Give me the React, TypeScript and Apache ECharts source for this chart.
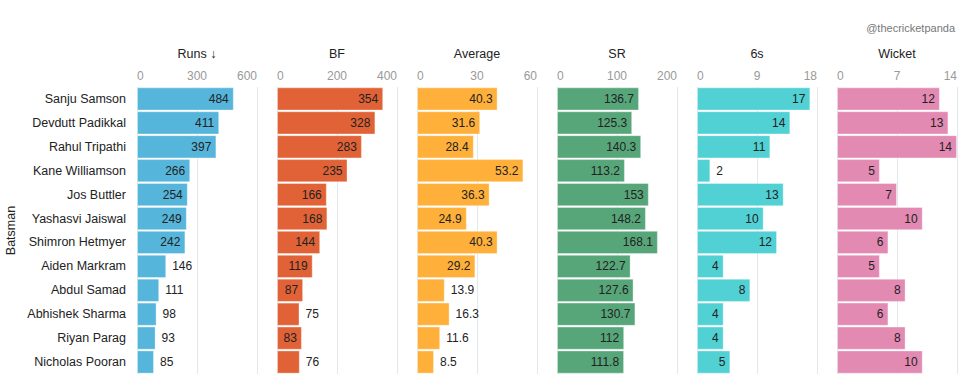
import React, { useEffect, useRef } from "react";
import * as echarts from "echarts";

const batsmen = [
  "Sanju Samson", "Devdutt Padikkal", "Rahul Tripathi", "Kane Williamson", "Jos Buttler",
  "Yashasvi Jaiswal", "Shimron Hetmyer", "Aiden Markram", "Abdul Samad", "Abhishek Sharma",
  "Riyan Parag", "Nicholas Pooran",
];
const runs = [484, 411, 397, 266, 254, 249, 242, 146, 111, 98, 93, 85];
const ballsFaced = [354, 328, 283, 235, 166, 168, 144, 119, 87, 75, 83, 76];
const average = [40.3, 31.6, 28.4, 53.2, 36.3, 24.9, 40.3, 29.2, 13.9, 16.3, 11.6, 8.5];
const strikeRate = [136.7, 125.3, 140.3, 113.2, 153, 148.2, 168.1, 122.7, 127.6, 130.7, 112, 111.8];
const sixes = [17, 14, 11, 2, 13, 10, 12, 4, 8, 4, 4, 5];
const wickets = [12, 13, 14, 5, 7, 10, 6, 5, 8, 6, 8, 10];

const panelTitles = ["Runs ↓", "BF", "Average", "SR", "6s", "Wicket"];
const panelMax = [600, 400, 60, 200, 18, 14];
const panelInterval = [300, 200, 30, 100, 9, 7];
const panelColors = ["#55b5da", "#e06236", "#ffb03b", "#57a67a", "#51d1d3", "#e38ab3"];
const panelData = [runs, ballsFaced, average, strikeRate, sixes, wickets];

const FONT = "Liberation Sans, Arial, sans-serif";

function textWidth(s: string) {
  let w = 0;
  for (const c of s) w += c === "." ? 3.3 : 6.7;
  return w;
}

export default function App() {
  const ref = useRef<HTMLDivElement>(null);
  useEffect(() => {
    if (!ref.current) return;
    const chart = echarts.init(ref.current, null, { renderer: "svg" });
    const PANEL_W = 120;
    const grids: any[] = [];
    const xAxes: any[] = [];
    const yAxes: any[] = [];
    const series: any[] = [];
    panelData.forEach((vals, i) => {
      grids.push({ left: 137 + i * 140, width: PANEL_W, top: 87, height: 287 });
      xAxes.push({
        gridIndex: i,
        type: "value",
        position: "top",
        min: 0,
        max: panelMax[i],
        interval: panelInterval[i],
        name: panelTitles[i],
        nameLocation: "middle",
        nameGap: 27,
        nameTextStyle: { color: "#222", fontSize: 12.5, fontFamily: FONT },
        axisLine: { show: false },
        axisTick: { show: false },
        axisLabel: {
          color: "#999",
          fontSize: 12,
          fontFamily: FONT,
          margin: 5,
          alignMinLabel: "left",
          alignMaxLabel: "right",
        },
        splitLine: { show: true, lineStyle: { color: "#e3e7ee", width: 1 } },
      });
      yAxes.push({
        gridIndex: i,
        type: "category",
        inverse: true,
        data: batsmen,
        axisLine: { show: false },
        axisTick: { show: false },
        axisLabel: i === 0
          ? { show: true, color: "#222", fontSize: 12.5, fontFamily: FONT, margin: 11 }
          : { show: false },
        name: i === 0 ? "Batsman" : "",
        nameLocation: "middle",
        nameGap: 120,
        nameRotate: 90,
        nameTextStyle: { color: "#222", fontSize: 12.5, fontFamily: FONT },
      });
      series.push({
        type: "bar",
        xAxisIndex: i,
        yAxisIndex: i,
        barCategoryGap: "3%",
        itemStyle: {
          color: panelColors[i],
          borderColor: "rgba(255,255,255,0.35)",
          borderWidth: 1,
        },
        data: vals.map((v) => {
          const px = (v / panelMax[i]) * PANEL_W;
          const inside = px - textWidth(String(v)) >= 10.5;
          return {
            value: v,
            label: {
              show: true,
              position: inside ? "insideRight" : "right",
              distance: inside ? 5 : 6,
              color: "#222",
              fontSize: 12,
              fontFamily: FONT,
            },
          };
        }),
      });
    });
    chart.setOption({
      animation: false,
      backgroundColor: "#fff",
      textStyle: { fontFamily: FONT },
      graphic: [
        {
          type: "text",
          right: 22,
          top: 22,
          style: { text: "@thecricketpanda", fill: "#777", fontSize: 11, fontFamily: FONT },
        },
      ],
      grid: grids,
      xAxis: xAxes,
      yAxis: yAxes,
      series,
    });
    return () => chart.dispose();
  }, []);
  return (
    <div
      ref={ref}
      style={{ position: "fixed", left: 0, top: 0, width: 977, height: 386 }}
    />
  );
}
